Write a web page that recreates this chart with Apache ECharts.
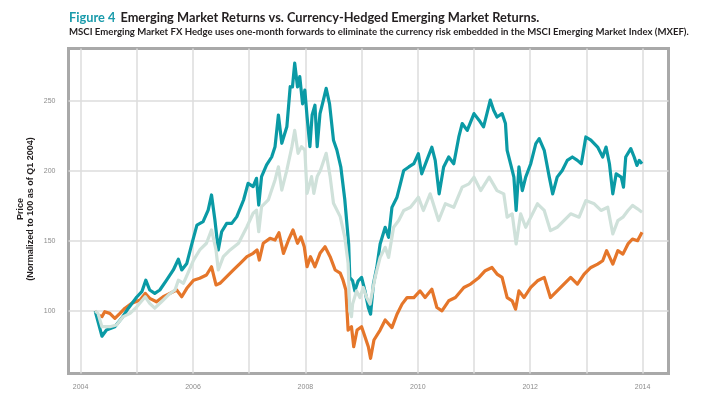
<!DOCTYPE html>
<html>
<head>
<meta charset="utf-8">
<script src="https://cdn.jsdelivr.net/npm/echarts@6/dist/echarts.min.js"></script>
<style>
html,body{margin:0;padding:0;background:#fff;}
#c{width:717px;height:405px;}
</style>
</head>
<body>
<div id="c"></div>
<script>
// ---- Data (decimal year, value normalized to 100 as of Q1 2004) ----
var tealYears = [2004.26,2004.38,2004.46,2004.61,2004.73,2004.85,2005.00,2005.09,2005.16,2005.23,2005.32,2005.41,2005.53,2005.65,2005.74,2005.80,2005.89,2005.98,2006.07,2006.18,2006.27,2006.33,2006.39,2006.45,2006.51,2006.60,2006.69,2006.78,2006.90,2006.98,2007.07,2007.13,2007.17,2007.22,2007.31,2007.40,2007.46,2007.52,2007.58,2007.67,2007.73,2007.77,2007.81,2007.86,2007.90,2007.95,2007.99,2008.03,2008.08,2008.12,2008.17,2008.21,2008.26,2008.32,2008.37,2008.43,2008.50,2008.56,2008.63,2008.70,2008.77,2008.79,2008.84,2008.88,2008.94,2009.00,2009.06,2009.12,2009.16,2009.21,2009.27,2009.33,2009.42,2009.48,2009.54,2009.63,2009.69,2009.75,2009.84,2009.93,2010.01,2010.07,2010.16,2010.25,2010.31,2010.38,2010.46,2010.55,2010.64,2010.73,2010.79,2010.88,2011.00,2011.09,2011.17,2011.23,2011.29,2011.35,2011.41,2011.50,2011.56,2011.59,2011.65,2011.71,2011.75,2011.80,2011.86,2011.92,2012.01,2012.10,2012.16,2012.25,2012.34,2012.40,2012.48,2012.57,2012.66,2012.75,2012.84,2012.91,2012.99,2013.08,2013.20,2013.29,2013.35,2013.41,2013.47,2013.53,2013.62,2013.66,2013.70,2013.79,2013.85,2013.90,2013.94,2013.99];
var tealValues = [100,82,86.4,88.8,94.8,102,110,113.8,122,115,112.6,115,122,129.3,137,129.3,134,148,161.4,163.8,172,182.9,165,143.6,156.6,162.6,162.6,167.4,179.3,191.2,188.8,194.8,175.7,196,204.3,210,217.4,240,219.8,231.6,260.2,260,277,260,267.4,248,257.8,238.8,217.4,240,247,217.4,241,250.7,259,248,222,215,203,180,147.9,124,121.6,114.4,121.6,124,114.4,102.5,97.7,119.2,131,147.9,159.8,152.6,174,181.3,190.8,200.4,202.9,205.2,212.4,198,207.6,217,207.6,183.7,202.9,210,205.2,224.3,233.9,229,241,236.3,231.5,241,250.6,243.4,238.6,241,233.9,214.8,205.2,195.6,171.8,202.9,186,195.6,205.2,219.6,223.1,214.8,195.6,183.7,195.6,200.4,207.6,210,207.6,205.2,224.3,222,217.1,210,217.1,205.2,183.7,198,195.6,188.5,210,216,210,204,207.6,205.2];

var lightYears = [2004.26,2004.31,2004.38,2004.52,2004.64,2004.76,2004.88,2005.00,2005.15,2005.23,2005.32,2005.44,2005.56,2005.68,2005.74,2005.83,2005.92,2006.01,2006.12,2006.24,2006.33,2006.41,2006.45,2006.54,2006.66,2006.81,2006.96,2007.07,2007.13,2007.17,2007.22,2007.34,2007.46,2007.52,2007.58,2007.67,2007.76,2007.81,2007.87,2007.93,2007.99,2008.03,2008.11,2008.15,2008.21,2008.27,2008.37,2008.44,2008.50,2008.62,2008.70,2008.76,2008.79,2008.82,2008.84,2008.91,2008.97,2009.03,2009.09,2009.15,2009.24,2009.33,2009.42,2009.48,2009.57,2009.66,2009.75,2009.87,2010.01,2010.10,2010.22,2010.37,2010.49,2010.64,2010.79,2010.91,2011.00,2011.12,2011.27,2011.41,2011.53,2011.59,2011.68,2011.75,2011.83,2011.92,2012.01,2012.13,2012.25,2012.36,2012.48,2012.60,2012.72,2012.87,2012.99,2013.14,2013.26,2013.38,2013.47,2013.56,2013.65,2013.74,2013.82,2013.91,2013.99];
var lightValues = [100,98.3,88.8,88.8,90,96,98.3,103,110.2,105.5,102,106.6,111.4,115,122,119.8,128,136.4,143.6,148.4,157.9,143.6,129.3,138.8,143.6,148.4,160.2,169.8,172,156.6,174.5,179.3,193.6,203,186.4,200.7,217.4,229,212.6,217.4,215,184,196,184,196,200.7,212.6,196,177,167.4,153,134,100,96,104.9,114.4,109.6,116.8,109.6,104.9,124,138.3,145.5,138.3,159.8,164.6,171.8,174.1,181.3,171.8,183.7,164.6,176.6,174.1,188.5,190.8,195.6,186,195.6,186,183.7,167,169.4,147.9,169.4,159.8,167,176.6,171.8,157.4,159.8,164.6,169.4,167,178.9,176.6,171.8,174.1,155,164.6,167,171.8,175.4,173,170.6];

var orangeYears = [2004.26,2004.31,2004.38,2004.43,2004.52,2004.61,2004.70,2004.79,2004.91,2005.06,2005.15,2005.23,2005.35,2005.47,2005.59,2005.71,2005.80,2005.89,2006.01,2006.12,2006.24,2006.33,2006.41,2006.48,2006.60,2006.72,2006.84,2006.96,2007.07,2007.14,2007.18,2007.25,2007.37,2007.46,2007.53,2007.61,2007.70,2007.78,2007.86,2007.92,2007.98,2008.03,2008.09,2008.17,2008.26,2008.35,2008.44,2008.53,2008.62,2008.67,2008.72,2008.76,2008.82,2008.86,2008.92,2009.00,2009.06,2009.12,2009.16,2009.22,2009.33,2009.42,2009.54,2009.63,2009.72,2009.81,2009.93,2010.04,2010.13,2010.25,2010.34,2010.43,2010.55,2010.67,2010.82,2010.94,2011.09,2011.20,2011.32,2011.41,2011.50,2011.59,2011.68,2011.74,2011.80,2011.89,2012.01,2012.13,2012.25,2012.36,2012.48,2012.60,2012.72,2012.84,2012.96,2013.08,2013.20,2013.29,2013.36,2013.47,2013.56,2013.65,2013.74,2013.82,2013.91,2013.99];
var orangeValues = [100,97,96,99.5,98.3,94.8,98.3,102,105.5,107.9,112.6,109,106.6,110.2,112.6,115,110.2,116.2,122,123.4,125.7,131.6,118.6,119.8,124.5,129.3,134,138.8,141.2,143.6,136.4,148.4,151.9,150.7,155.9,141.2,150.7,157.9,148.4,153,145.9,131.6,138.8,131.6,141.2,145.9,138.8,129.3,127,122,115,86.4,88.8,74.5,86.4,88.8,81.6,74.5,66.2,79.3,86.4,93.6,88.1,97.7,104.9,109.6,109.6,114.4,109.6,115.6,102.5,100.1,107.3,109.6,116.8,119.2,124,128.8,131.1,126.4,124,109.6,107.3,101.3,114.4,109.6,116.8,121.6,124,109.6,114.4,119.2,124,119.2,126.4,131.1,133.5,135.9,143.1,133.5,143.1,140.6,147.9,151.4,150.2,156.2];

var yTicks = [100, 150, 200, 250];
var xTicks = [2004, 2005, 2006, 2007, 2008, 2009, 2010, 2011, 2012, 2013, 2014];
var xLabels = [2004, 2006, 2008, 2010, 2012, 2014];

var titleLead = 'Figure 4';
var titleText = 'Emerging Market Returns vs. Currency-Hedged Emerging Market Returns.';
var subtitleText = 'MSCI Emerging Market FX Hedge uses one-month forwards to eliminate the currency risk embedded in the MSCI Emerging Market Index (MXEF).';
var yNameLine1 = 'Price';
var yNameLine2 = '(Normalized to 100 as of Q1 2004)';

function pairs(xs, ys) { return xs.map(function (x, i) { return [x, ys[i]]; }); }

var chart = echarts.init(document.getElementById('c'), null, {renderer: 'canvas'});
var lineW = 3.2;
chart.setOption({
  animation: false,
  backgroundColor: '#ffffff',
  title: [{
    left: 64, top: 4,
    text: '{a|' + titleLead + '} {b|' + titleText + '}',
    textStyle: {
      rich: {
        a: {fontFamily: 'Lato', fontSize: 12.8, color: '#1a9bab'},
        b: {fontFamily: 'Lato', fontSize: 12.8, color: '#231f20'}
      }
    }
  }, {
    left: 64, top: 22,
    text: subtitleText,
    textStyle: {fontFamily: 'Lato', fontSize: 9.6, fontWeight: 'bold', color: '#231f20'}
  }],
  grid: {
    left: 68.5, top: 48.5, width: 600, height: 325,
    show: true, borderColor: '#a9a9a9', borderWidth: 3, backgroundColor: 'transparent',
    containLabel: false
  },
  xAxis: {
    type: 'value',
    min: 2003.785, max: 2014.461,
    axisLine: {show: false},
    axisTick: {show: false, customValues: xTicks},
    splitLine: {show: true, lineStyle: {color: '#dcdcdc', width: 1.5}},
    axisLabel: {
      customValues: xLabels,
      margin: 10,
      fontFamily: 'Liberation Sans', fontSize: 7, color: '#8c8c8c',
      formatter: function (v) { return String(Math.round(v)); }
    }
  },
  yAxis: {
    type: 'value',
    min: 55.36, max: 287.5,
    axisLine: {show: false},
    axisTick: {show: false, customValues: yTicks},
    splitLine: {show: true, lineStyle: {color: '#dcdcdc', width: 1.5}},
    axisLabel: {
      customValues: yTicks,
      margin: 13,
      fontFamily: 'Liberation Sans', fontSize: 7, color: '#8c8c8c'
    }
  },
  graphic: [{
    type: 'text',
    x: 25.5, y: 209,
    rotation: Math.PI / 2,
    style: {
      text: '{p|' + yNameLine1 + '}\n{q|' + yNameLine2 + '}',
      align: 'center', verticalAlign: 'middle',
      rich: {
        p: {fontFamily: 'Liberation Sans', fontSize: 9, fontWeight: 'bold', fill: '#231f20', lineHeight: 10, align: 'center'},
        q: {fontFamily: 'Liberation Sans', fontSize: 9, fontWeight: 'bold', fill: '#231f20', lineHeight: 10, align: 'center'}
      }
    }
  }],
  series: [{
    name: 'MSCI EM FX Hedge',
    type: 'line', showSymbol: false, clip: true,
    data: pairs(orangeYears, orangeValues),
    lineStyle: {color: '#e5762a', width: lineW, join: 'round'}
  }, {
    name: 'MSCI EM (USD)',
    type: 'line', showSymbol: false, clip: true,
    data: pairs(tealYears, tealValues),
    lineStyle: {color: '#0a9aa5', width: lineW, join: 'round'}
  }, {
    name: 'MSCI EM (Local)',
    type: 'line', showSymbol: false, clip: true,
    data: pairs(lightYears, lightValues),
    lineStyle: {color: '#cfe1da', width: lineW, join: 'round'}
  }]
});
</script>
</body>
</html>
